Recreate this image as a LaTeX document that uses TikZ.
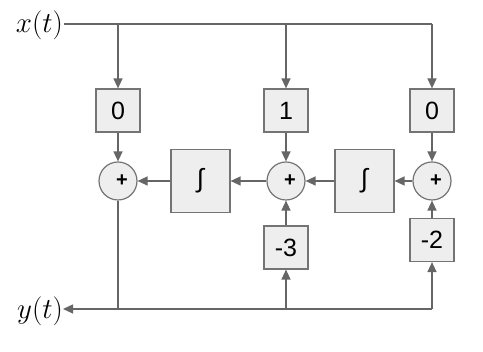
\RequirePackage{fix-cm}
\documentclass[tikz,border=0pt]{standalone}
\usepackage{fontspec}
\setsansfont{Liberation Sans}
\usetikzlibrary{arrows.meta}
\definecolor{linec}{HTML}{666666}
\definecolor{boxc}{HTML}{747474}
\definecolor{fillc}{HTML}{EEEEEE}
\tikzset{
  coef/.style={draw=boxc, fill=fillc, line width=1.2pt, minimum width=44pt, minimum height=43pt, inner sep=0pt, font=\sffamily\fontsize{25}{28}\selectfont},
  integ/.style={draw=boxc, fill=fillc, line width=1.2pt, minimum width=59pt, minimum height=63pt, inner sep=0pt, font=\sffamily\fontsize{26}{30}\selectfont},
  sumnode/.style={circle, draw=boxc, fill=fillc, line width=1.2pt, minimum size=38pt, inner sep=0pt, font=\sffamily\bfseries\fontsize{20}{22}\selectfont},
  lbl/.style={inner sep=0pt, font=\fontsize{29}{34}\selectfont},
  wire/.style={draw=linec, line width=1.3pt},
  arr/.style={wire, -{Triangle[length=10pt,width=9pt]}, shorten >=0pt},
}
\begin{document}
\begin{tikzpicture}[x=1pt,y=-1pt]
\useasboundingbox (0,0) rectangle (483,352);
% labels
\node[lbl, anchor=base east] (xl) at (63,33) {$x(t)$};
\node[lbl, anchor=base east] (yl) at (63,319) {$y(t)$};
% coefficient boxes
\node[coef] (c0) at (118,110.5) {0};
\node[coef] (c1) at (286,110.5) {1};
\node[coef] (c2) at (432,110.5) {0};
\node[coef] (a1) at (286,247.5) {-3};
\node[coef] (a0) at (432,240) {-2};
% summers and integrators
\node[sumnode] (s0) at (118,181) {\hspace*{8pt}+};
\node[sumnode] (s1) at (286,181) {\hspace*{8pt}+};
\node[sumnode] (s2) at (432,181) {\hspace*{8pt}+};
\node[integ] (i0) at (200.5,181) {∫};
\node[integ] (i1) at (364.5,181) {∫};
% helper coordinates
\coordinate (xs) at (64,24);
\coordinate (xe) at (432,24);
\coordinate (ys) at (432,309);
\coordinate (ye) at (63,309);
% input bus
\draw[wire] (xs) -- (xe);
\draw[arr] (xs -| c0) -- (c0);
\draw[arr] (xs -| c1) -- (c1);
\draw[arr] (xe) -- (c2);
% coefficients into summers
\draw[arr] (c0) -- (s0);
\draw[arr] (c1) -- (s1);
\draw[arr] (c2) -- (s2);
\draw[arr] (a1) -- (s1);
\draw[arr] (a0) -- (s2);
% forward chain
\draw[arr] (s2) -- (i1);
\draw[arr] (i1) -- (s1);
\draw[arr] (s1) -- (i0);
\draw[arr] (i0) -- (s0);
% output bus
\draw[wire] (s0) -- (ye -| s0);
\draw[arr] (ys) -- (ye);
\draw[arr] (ys) -- (a0);
\draw[arr] (ys -| a1) -- (a1);
\end{tikzpicture}
\end{document}
